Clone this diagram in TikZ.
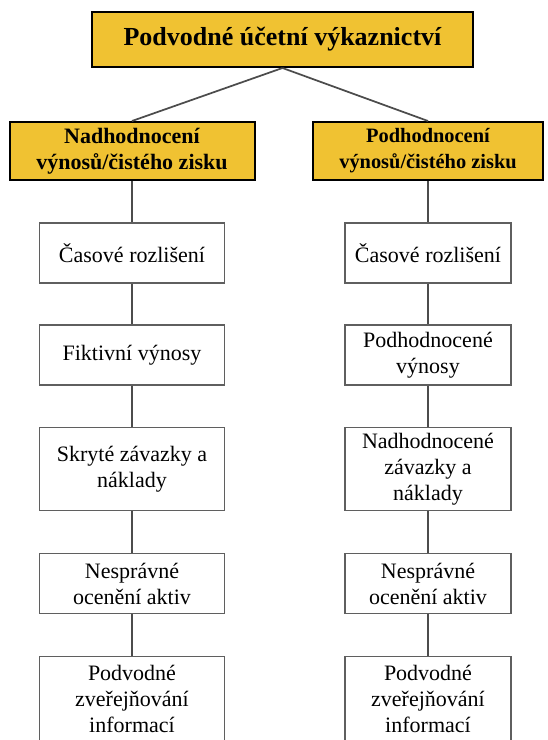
\documentclass[tikz,border=0pt]{standalone}
\usepackage{fontspec}
\setmainfont{Liberation Serif}
\usetikzlibrary{positioning}
\definecolor{hdrfill}{RGB}{240,194,50}
\definecolor{boxline}{RGB}{95,95,95}
\tikzset{hdr/.style={draw=black,fill=hdrfill,line width=1.5pt,align=center,inner sep=2pt},
		hdrtext/.style={font=\bfseries\fontsize{16.5}{19.5}\selectfont},
		itm/.style={draw=boxline,fill=white,line width=1.2pt,align=center,inner sep=2pt,
			minimum height=45pt,font=\fontsize{16.5}{19.5}\selectfont},
		itmL/.style={itm,minimum width=138.75pt},
		itmR/.style={itm,minimum width=124.5pt},
		tall/.style={minimum height=62.25pt},
		last/.style={minimum height=74pt,text depth=10pt},
		conn/.style={draw=black!70,line width=1.3pt}}

\begin{document}
\begin{tikzpicture}[x=0.75pt,y=0.75pt,node distance=31pt and 1]
      \useasboundingbox (0,0) rectangle (547,740);
      % top
      \node [hdr,minimum width=285.75pt,minimum height=41.25pt,font=\bfseries\fontsize{19.5}{22}\selectfont] (top) at (282.5,700.5) {Podvodné účetní výkaznictví};
      \node [hdr,hdrtext,minimum width=183.75pt,minimum height=43.5pt] (nad) at (132,589) {Nadhodnocení\\výnosů/čistého zisku};
      \node [hdr,hdrtext,minimum width=172.5pt,minimum height=43.5pt,font=\bfseries\fontsize{15.3}{19.5}\selectfont] (pod) at (428,589) {Podhodnocení\\výnosů/čistého zisku};
      % left column
      \node [itmL,below=of nad] (nCas) {Časové rozlišení};
      \node [itmL,below=30pt of nCas] (nFik) {Fiktivní výnosy};
      \node [itmL,tall,below=of nFik] (nSkr) {Skryté závazky a\\náklady};
      \node [itmL,below=of nSkr] (nNes) {Nesprávné\\ocenění aktiv};
      \node [itmL,last,below=of nNes,anchor=north] (nZve) {Podvodné\\zveřejňování\\informací};
      % right column
      \node [itmR,below=of pod] (pCas) {Časové rozlišení};
      \node [itmR,below=30pt of pCas] (pVyn) {Podhodnocené\\výnosy};
      \node [itmR,tall,below=of pVyn] (pZav) {Nadhodnocené\\závazky a\\náklady};
      \node [itmR,below=of pZav] (pNes) {Nesprávné\\ocenění aktiv};
      \node [itmR,last,below=of pNes,anchor=north] (pZve) {Podvodné\\zveřejňování\\informací};
      \draw [conn] (top.south) -- (nad.north);
      \draw [conn] (top.south) -- (pod.north);
      \draw [conn] (nad) -- (nCas) (nCas) -- (nFik) (nFik) -- (nSkr) (nSkr) -- (nNes) (nNes) -- (nZve);
      \draw [conn] (pod) -- (pCas) (pCas) -- (pVyn) (pVyn) -- (pZav) (pZav) -- (pNes) (pNes) -- (pZve);
   \end{tikzpicture}
\end{document}
